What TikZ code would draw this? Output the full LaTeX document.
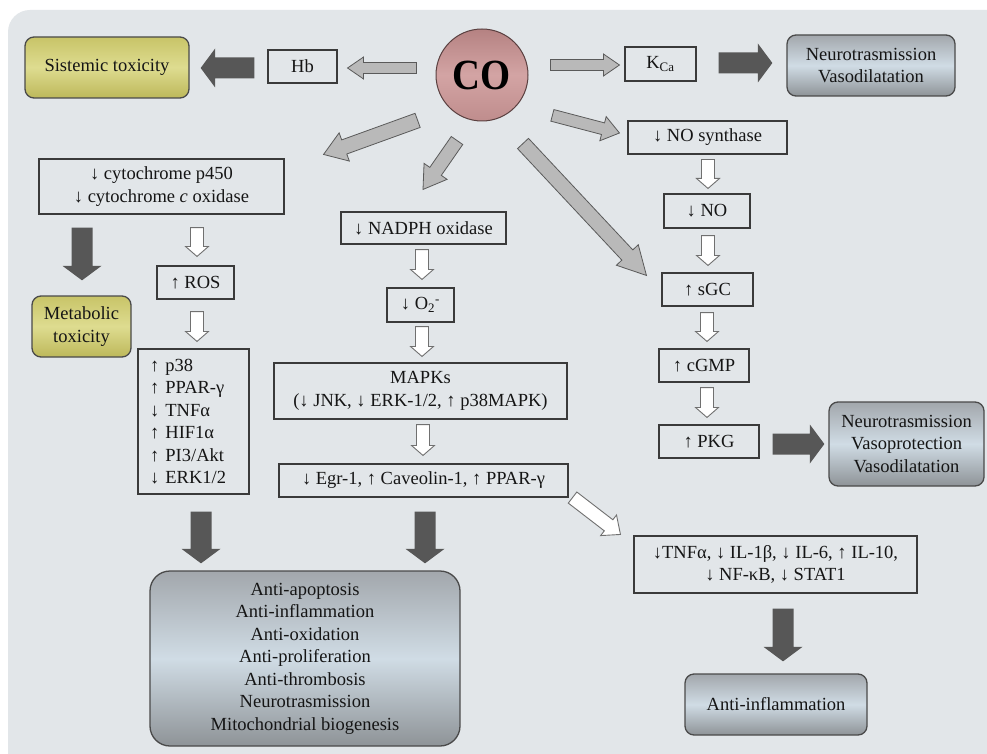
\documentclass[tikz,border=0pt]{standalone}
\usepackage{fontspec}
\setmainfont{Liberation Serif}
\usepackage{graphicx}
\usetikzlibrary{calc}

\definecolor{bg}{HTML}{E2E6E9}
\definecolor{boxc}{HTML}{3A3A3A}
\definecolor{rboxc}{HTML}{4A4A4A}
\definecolor{txt}{HTML}{151515}
\definecolor{yelT}{HTML}{C8C468}
\definecolor{yelM}{HTML}{DEDC90}
\definecolor{yelB}{HTML}{BDB85A}
\definecolor{bluT}{HTML}{A2A7AC}
\definecolor{bluM}{HTML}{D0DCE5}
\definecolor{bluB}{HTML}{8E9397}
\definecolor{coT}{HTML}{B58282}
\definecolor{coM}{HTML}{D3A4A4}
\definecolor{coB}{HTML}{BF8D8D}
\definecolor{cob}{HTML}{5A4040}
\definecolor{garr}{HTML}{B9B9B9}
\definecolor{garrd}{HTML}{5A5A5A}
\definecolor{darr}{HTML}{575757}
\definecolor{harr}{HTML}{707070}

\newcommand{\fsz}{\fontsize{18.5}{22.5}\selectfont}

% block arrow: [style]{tail}{tip}{body half width}{head half width}{head length}
\newcommand{\blockarrow}[6][]{%
  \coordinate (ba-a) at (#2);
  \coordinate (ba-b) at (#3);
  \coordinate (ba-n) at ($(ba-b)!#6!(ba-a)$);
  \filldraw[#1] ($(ba-a)!#4!90:(ba-b)$) -- ($(ba-n)!#4!90:(ba-b)$) --
    ($(ba-n)!#5!90:(ba-b)$) -- (ba-b) -- ($(ba-n)!#5!-90:(ba-b)$) --
    ($(ba-n)!#4!-90:(ba-b)$) -- ($(ba-a)!#4!-90:(ba-b)$) -- cycle;}
\newcommand{\grayarrow}[2]{\blockarrow[grayarr]{#1}{#2}{5.5pt}{11pt}{16pt}}
\newcommand{\darkarrow}[2]{\blockarrow[darkarr]{#1}{#2}{10.5pt}{19.5pt}{14.5pt}}
\newcommand{\hollowarrow}[2]{\blockarrow[hollowarr]{#1}{#2}{6.5pt}{11.5pt}{10pt}}

\begin{document}
\begin{tikzpicture}[x=1pt,y=-1pt,
  box/.style={draw=boxc, line width=1.1pt, inner sep=0pt, align=center, font=\fsz, text=txt},
  rbox/.style={box, rounded corners=9pt, draw=rboxc, line width=1.3pt},
  yel/.style={rbox, top color=yelT, bottom color=yelB, middle color=yelM},
  blu/.style={rbox, top color=bluT, bottom color=bluB, middle color=bluM},
  grayarr/.style={fill=garr, draw=garrd, line width=0.8pt, line join=miter},
  darkarr/.style={fill=darr, draw=none},
  hollowarr/.style={fill=white, draw=harr, line width=0.9pt, line join=miter},
]
\useasboundingbox (0,0) rectangle (987,754);
\fill[white] (0,0) rectangle (987,754);
\fill[bg, rounded corners=22pt] (8,10) rectangle (1030,800);

% nodes
\node[yel, minimum width=164pt, minimum height=61pt] (sis) at (107,67.5) {Sistemic toxicity};
\node[box, minimum width=69pt, minimum height=33pt] (hb) at (302.5,66.5) {Hb};
\node[circle, draw=cob, line width=1pt, top color=coT, bottom color=coB, middle color=coM, minimum size=92pt, inner sep=0pt, text=black] (co) at (482,75) {\scalebox{0.9}[1]{\fontsize{43}{43}\selectfont\bfseries CO}};
\node[box, minimum width=71pt, minimum height=34pt] (kca) at (660.5,64) {K\textsubscript{Ca}};
\node[blu, minimum width=168pt, minimum height=61pt] (nv) at (871,65.5) {Neurotrasmission\\Vasodilatation};
\node[box, minimum width=159pt, minimum height=33pt] (nos) at (707.5,137.5) {↓ NO synthase};
\node[box, minimum width=245pt, minimum height=55pt] (cyt) at (161.5,186.5) {↓ cytochrome p450\\↓ cytochrome \textit{c} oxidase};
\node[yel, minimum width=99pt, minimum height=61pt] (met) at (81.5,326.5) {Metabolic\\toxicity};
\node[box, minimum width=77pt, minimum height=33pt] (ros) at (195.5,282.5) {↑ ROS};
\node[box, minimum width=111pt, minimum height=145pt, text width=87pt, align=left] (lst) at (193.5,421.5) {↑ p38\\↑ PPAR-γ\\↓ TNFα\\↑ HIF1α\\↑ PI3/Akt\\↓ ERK1/2};
\node[box, minimum width=165pt, minimum height=32pt] (nadph) at (423.5,228) {↓ NADPH oxidase};
\node[box, minimum width=67pt, minimum height=34pt] (o2) at (420.5,305) {↓ O\textsubscript{2}\textsuperscript{-}};
\node[box, minimum width=293pt, minimum height=56pt] (mapk) at (420.5,391) {MAPKs\\(↓ JNK, ↓ ERK-1/2, ↑ p38MAPK)};
\node[box, minimum width=289pt, minimum height=33pt] (egr) at (423.5,480.5) {↓ Egr-1, ↑ Caveolin-1, ↑ PPAR-γ};
\node[box, minimum width=86pt, minimum height=34pt] (no) at (707,211) {↓ NO};
\node[box, minimum width=91pt, minimum height=33pt] (sgc) at (707.5,289.5) {↑ sGC};
\node[box, minimum width=90pt, minimum height=33pt] (cgmp) at (704,365.5) {↑ cGMP};
\node[box, minimum width=100pt, minimum height=33pt] (pkg) at (709,441.5) {↑ PKG};
\node[blu, minimum width=155pt, minimum height=84pt] (nvv) at (906.5,444) {Neurotrasmission\\Vasoprotection\\Vasodilatation};
\node[blu, rounded corners=20pt, minimum width=310pt, minimum height=175pt] (big) at (305,658.5) {Anti-apoptosis\\Anti-inflammation\\Anti-oxidation\\Anti-proliferation\\Anti-thrombosis\\Neurotrasmission\\Mitochondrial biogenesis};
\node[box, minimum width=283pt, minimum height=57pt] (cyto) at (775.5,564.5) {↓TNFα, ↓ IL-1β, ↓ IL-6, ↑ IL-10,\\↓ NF-κB, ↓ STAT1};
\node[blu, minimum width=182pt, minimum height=61pt] (ai) at (776,704.5) {Anti-inflammation};

% arrows
\grayarrow{$(co.west)+(-19,-7)$}{$(hb.east)+(10,1.5)$}
\darkarrow{$(hb.west)+(-13,1.5)$}{$(sis.east)+(11,0.5)$}
\grayarrow{$(co.east)+(22,-10)$}{$(kca.west)+(-5,1)$}
\darkarrow{$(kca.east)+(22,-1)$}{$(nv.west)+(-14,-2.5)$}
\blockarrow[grayarr]{$(co.south east)+(37.5,7.5)$}{$(nos.west)+(-8,-4.5)$}{6pt}{12.5pt}{17pt}
\blockarrow[grayarr]{$(co.south west)+(-31.5,12.5)$}{$(cyt.north east)+(39,-4)$}{7.5pt}{15pt}{22pt}
\blockarrow[grayarr]{$(co.south)+(-25,19)$}{$(nadph.north)+(-0.5,-22)$}{7pt}{14pt}{22pt}
\blockarrow[grayarr]{$(co.south)+(41,22)$}{$(sgc.north west)+(-15,3)$}{7.5pt}{15pt}{28pt}
\darkarrow{$(cyt.south -| met.north)+(0.5,13)$}{$(met.north)+(0.5,-15)$}
\hollowarrow{$(cyt.south -| ros.north)+(1.5,13)$}{$(ros.north)+(1.5,-9)$}
\hollowarrow{$(ros.south)+(1.5,12)$}{$(lst.north -| ros.south)+(1.5,-7)$}
\hollowarrow{$(nadph.south)+(-1.5,5)$}{$(o2.north -| nadph.south)+(-1.5,-8)$}
\hollowarrow{$(o2.south)+(1.5,4)$}{$(mapk.north -| o2.south)+(1.5,-6)$}
\hollowarrow{$(mapk.south)+(2.5,5)$}{$(egr.north -| mapk.south)+(2.5,-8)$}
\hollowarrow{$(nos.south)+(0.5,5)$}{$(no.north -| nos.south)+(0.5,-5)$}
\hollowarrow{$(no.south)+(1,7)$}{$(sgc.north -| no.south)+(1,-7)$}
\hollowarrow{$(sgc.south)+(-0.5,6)$}{$(cgmp.north -| sgc.south)+(-0.5,-7)$}
\hollowarrow{$(cgmp.south)+(3,5)$}{$(pkg.north -| cgmp.south)+(3,-7)$}
\darkarrow{$(pkg.east)+(13,2.5)$}{$(nvv.west)+(-4,0)$}
\darkarrow{$(lst.south)+(7.5,17)$}{$(big.north -| lst.south)+(7.5,-7)$}
\darkarrow{$(egr.south)+(1.5,14)$}{$(big.north -| egr.south)+(1.5,-7)$}
\blockarrow[hollowarr]{$(egr.south east)+(4,0)$}{$(cyto.north west)+(-13,-1)$}{7pt}{13pt}{15pt}
\darkarrow{$(cyto.south)+(7.5,15)$}{$(ai.north)+(7,-12)$}
\end{tikzpicture}
\end{document}
